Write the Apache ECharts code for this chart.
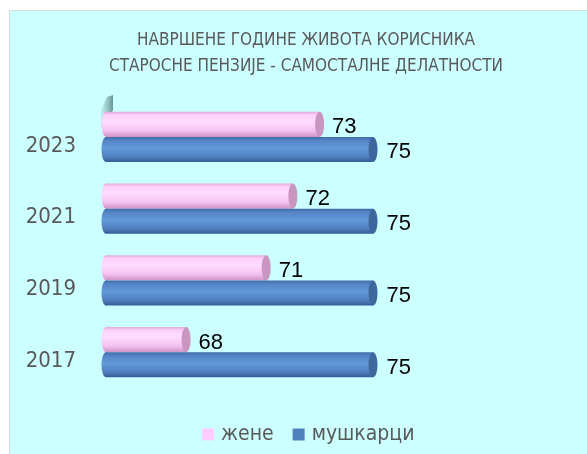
<!DOCTYPE html>
<html><head><meta charset="utf-8">
<script src="https://cdn.jsdelivr.net/npm/echarts@6/dist/echarts.min.js"></script>
<style>html,body{margin:0;padding:0;background:#fff}#c{width:587px;height:454px}</style>
</head><body><div id="c"></div>
<script>
const years = ['2017', '2019', '2021', '2023'];
const zene = [68, 71, 72, 73];
const muskarci = [75, 75, 75, 75];
const seriesNames = ['жене', 'мушкарци'];
const titleText = 'НАВРШЕНЕ ГОДИНЕ ЖИВОТА КОРИСНИКА\nСТАРОСНЕ ПЕНЗИЈЕ - САМОСТАЛНЕ ДЕЛАТНОСТИ';

const FONT = "'DejaVu Sans Condensed', 'DejaVu Sans', sans-serif";
const AXMIN = 65;

function makeRender(off, grad, capColor, labelDx) {
  return function (params, api) {
    const v = api.value(0), cat = api.value(1);
    const end = api.coord([v, cat]);
    const start = api.coord([AXMIN, cat]);
    const band = api.size([0, 1])[1];
    const h = band * 0.35;
    const cy = end[1] + off * h / 2;
    const rx = 4.5;
    const g = () => new echarts.graphic.LinearGradient(0, 0, 0, 1, grad);
    return {
      type: 'group',
      children: [
        { type: 'ellipse', shape: { cx: start[0], cy: cy, rx: rx, ry: h / 2 }, style: { fill: g() } },
        { type: 'rect', shape: { x: start[0], y: cy - h / 2, width: end[0] - start[0], height: h }, style: { fill: g() } },
        { type: 'ellipse', shape: { cx: end[0], cy: cy, rx: rx, ry: h / 2 }, style: { fill: capColor } },
        { type: 'text', style: { text: String(v), x: end[0] + rx + labelDx, y: cy + 3, verticalAlign: 'middle', align: 'left', fill: '#000', font: "22px 'Liberation Sans', sans-serif" } }
      ]
    };
  };
}

const pinkGrad = [
  { offset: 0, color: '#e4a8de' }, { offset: 0.12, color: '#fbd0f8' }, { offset: 0.4, color: '#ffdcff' },
  { offset: 0.75, color: '#f5c2f0' }, { offset: 1, color: '#cf93c8' }
];
const blueGrad = [
  { offset: 0, color: '#3f6ca8' }, { offset: 0.15, color: '#5585c6' }, { offset: 0.45, color: '#6399dc' },
  { offset: 0.8, color: '#4f7fbf' }, { offset: 1, color: '#345c93' }
];

const chart = echarts.init(document.getElementById('c'), null, { renderer: 'canvas' });
chart.setOption({
  backgroundColor: '#ffffff',
  animation: false,
  graphic: [
    { type: 'rect', z: -10, shape: { x: 9.5, y: 10.5, width: 600, height: 460 }, style: { fill: '#ccffff', stroke: '#d9d9d9', lineWidth: 1 } },
    { type: 'polygon', z: -5, shape: { points: [[107, 97], [113, 95], [113, 110], [104, 128], [101, 128], [101, 110]] },
      style: { fill: new echarts.graphic.LinearGradient(0, 0, 1, 0, [{ offset: 0, color: 'rgba(120,160,160,0.15)' }, { offset: 1, color: 'rgba(70,110,110,0.75)' }]) } }
  ],
  title: {
    text: titleText, left: 301, top: 23, textAlign: 'center',
    textStyle: { fontFamily: FONT, fontSize: 17, fontWeight: 'normal', color: '#595959', lineHeight: 26 }
  },
  legend: {
    bottom: 4, left: 197, itemWidth: 12, itemHeight: 12, itemGap: 19, icon: 'rect',
    textStyle: { fontFamily: FONT, fontSize: 21, color: '#595959', padding: [0, 0, 0, 2] },
    data: seriesNames
  },
  grid: { left: 106, right: 80.5, top: 101, bottom: 66 },
  xAxis: { type: 'value', min: AXMIN, max: 80, show: false },
  yAxis: {
    type: 'category', data: years,
    axisLine: { show: false }, axisTick: { show: false }, splitLine: { show: false },
    axisLabel: { fontFamily: FONT, fontSize: 22, color: '#595959', margin: 30, verticalAlign: 'top', lineHeight: 18 }
  },
  series: [
    { name: seriesNames[0], type: 'custom', itemStyle: { color: '#ffccff' }, renderItem: makeRender(-1, pinkGrad, '#c896c0', 8),
      encode: { x: 0, y: 1 }, data: zene.map((v, i) => [v, i]) },
    { name: seriesNames[1], type: 'custom', itemStyle: { color: '#4f81bd' }, renderItem: makeRender(1, blueGrad, '#3e679d', 9),
      encode: { x: 0, y: 1 }, data: muskarci.map((v, i) => [v, i]) }
  ]
});
</script></body></html>
